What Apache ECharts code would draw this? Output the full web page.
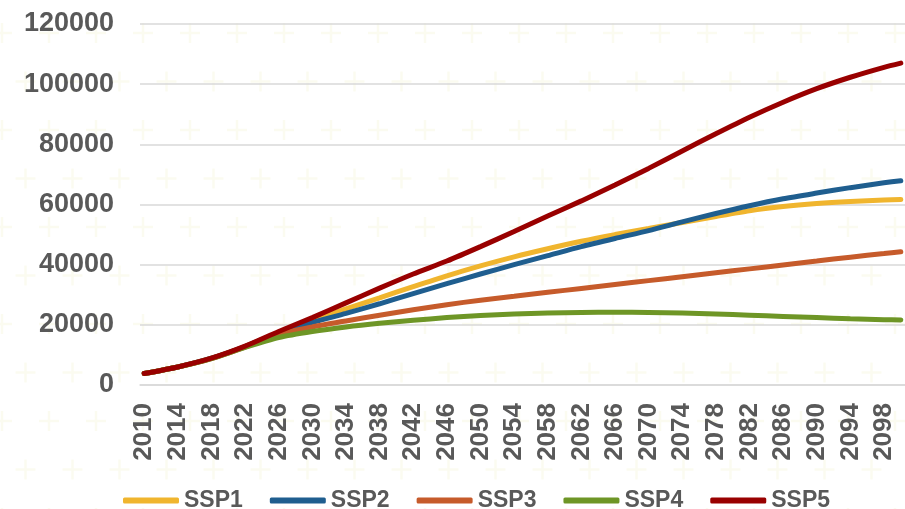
<!DOCTYPE html>
<html>
<head>
<meta charset="utf-8">
<script src="https://cdn.jsdelivr.net/npm/echarts@6/dist/echarts.min.js"></script>
<style>
  html, body { margin: 0; padding: 0; background: #ffffff; }
  #chart { width: 905px; height: 509px; }
</style>
</head>
<body>
<div id="chart"></div>
<script>
// Year categories on the horizontal axis (every year 2010–2100).
const years = [];
for (let y = 2010; y <= 2100; y++) years.push(String(y));

// Years at which the scenario values are given.
const sampleYears = ['2010','2014','2018','2022','2026','2030','2034','2038','2042','2046','2050','2054',
                     '2058','2062','2066','2070','2074','2078','2082','2086','2090','2094','2098','2100'];

const ssp1 = [3800, 6000, 8900, 12800, 17400, 21400, 25300, 29000, 32700, 36300, 39600, 42600,
              45300, 47800, 50000, 52000, 54000, 56000, 57900, 59300, 60300, 61000, 61500, 61700];
const ssp2 = [3800, 6000, 8900, 12800, 17300, 20800, 23800, 27000, 30400, 33700, 36900, 40000,
              43000, 46000, 48700, 51300, 54200, 57000, 59600, 61900, 63800, 65600, 67200, 67900];
const ssp3 = [3800, 6000, 8800, 12600, 16800, 19300, 21300, 23200, 25000, 26700, 28200, 29500,
              30800, 32100, 33400, 34700, 36000, 37300, 38600, 39900, 41200, 42500, 43700, 44300];
const ssp4 = [3800, 6000, 8800, 12500, 15800, 17800, 19300, 20500, 21500, 22400, 23100, 23600,
              23900, 24100, 24200, 24100, 23900, 23600, 23200, 22800, 22400, 22000, 21700, 21600];
const ssp5 = [3800, 6000, 8900, 12900, 17800, 22400, 27300, 32200, 36900, 41200, 46000, 51000,
              56200, 61200, 66500, 72000, 77800, 83500, 89000, 94000, 98500, 102300, 105600, 107000];

const seriesNames = ['SSP1', 'SSP2', 'SSP3', 'SSP4', 'SSP5'];
const seriesValues = [ssp1, ssp2, ssp3, ssp4, ssp5];
const seriesColors = ['#F0B52E', '#1F5E8F', '#C65B2B', '#6E9626', '#990000'];

const FONT = '"Liberation Sans", Arial, sans-serif';
const TEXT = '#595959';

// Faint plus-sign fill tile for the chart background.
function crossTile() {
  const c = document.createElement('canvas');
  c.width = 47; c.height = 97;
  const g = c.getContext('2d');
  g.strokeStyle = 'rgba(225, 220, 130, 0.12)';
  g.lineWidth = 2.5;
  const centers = [[2, 33], [49, 33], [-45, 33], [25.5, 81.5]];
  centers.forEach(([cx, cy]) => {
    [cy - 97, cy, cy + 97].forEach(yy => {
      g.beginPath();
      g.moveTo(cx - 10, yy); g.lineTo(cx + 10, yy);
      g.moveTo(cx, yy - 10); g.lineTo(cx, yy + 10);
      g.stroke();
    });
  });
  return c;
}

const chart = echarts.init(document.getElementById('chart'), null, { renderer: 'canvas' });

chart.setOption({
  backgroundColor: '#ffffff',
  animation: false,
  graphic: [{
    type: 'rect',
    silent: true,
    z: -10,
    shape: { x: 0, y: 0, width: 905, height: 509 },
    style: { fill: { image: crossTile(), repeat: 'repeat' } }
  }],
  grid: { left: 140, right: -3, top: 24, bottom: 124, containLabel: false },
  legend: {
    left: 118,
    top: 484,
    itemWidth: 56,
    itemHeight: 6,
    itemGap: 27,
    icon: 'roundRect',
    textStyle: { fontFamily: FONT, fontWeight: 'bold', fontSize: 23, color: TEXT },
    data: seriesNames
  },
  xAxis: {
    type: 'category',
    data: years,
    boundaryGap: true,
    axisLine: { show: true, lineStyle: { color: '#d9d9d9', width: 1.5 } },
    axisTick: { show: false },
    axisLabel: {
      interval: 3,
      rotate: 90,
      margin: 18,
      fontFamily: FONT,
      fontWeight: 'bold',
      fontSize: 26,
      color: TEXT
    },
    splitLine: { show: false }
  },
  yAxis: {
    type: 'value',
    min: 0,
    max: 120000,
    interval: 20000,
    axisLine: { show: false },
    axisTick: { show: false },
    axisLabel: {
      margin: 26,
      formatter: v => String(v),
      fontFamily: FONT,
      fontWeight: 'bold',
      fontSize: 27,
      color: TEXT
    },
    splitLine: { lineStyle: { color: '#d9d9d9', width: 1.5 } }
  },
  series: seriesNames.map((name, k) => ({
    name: name,
    type: 'line',
    data: sampleYears.map((yr, i) => [yr, seriesValues[k][i]]),
    smooth: 0.25,
    showSymbol: false,
    symbol: 'none',
    clip: false,
    lineStyle: { color: seriesColors[k], width: 5, cap: 'round' },
    itemStyle: { color: seriesColors[k] }
  }))
});
</script>
</body>
</html>
